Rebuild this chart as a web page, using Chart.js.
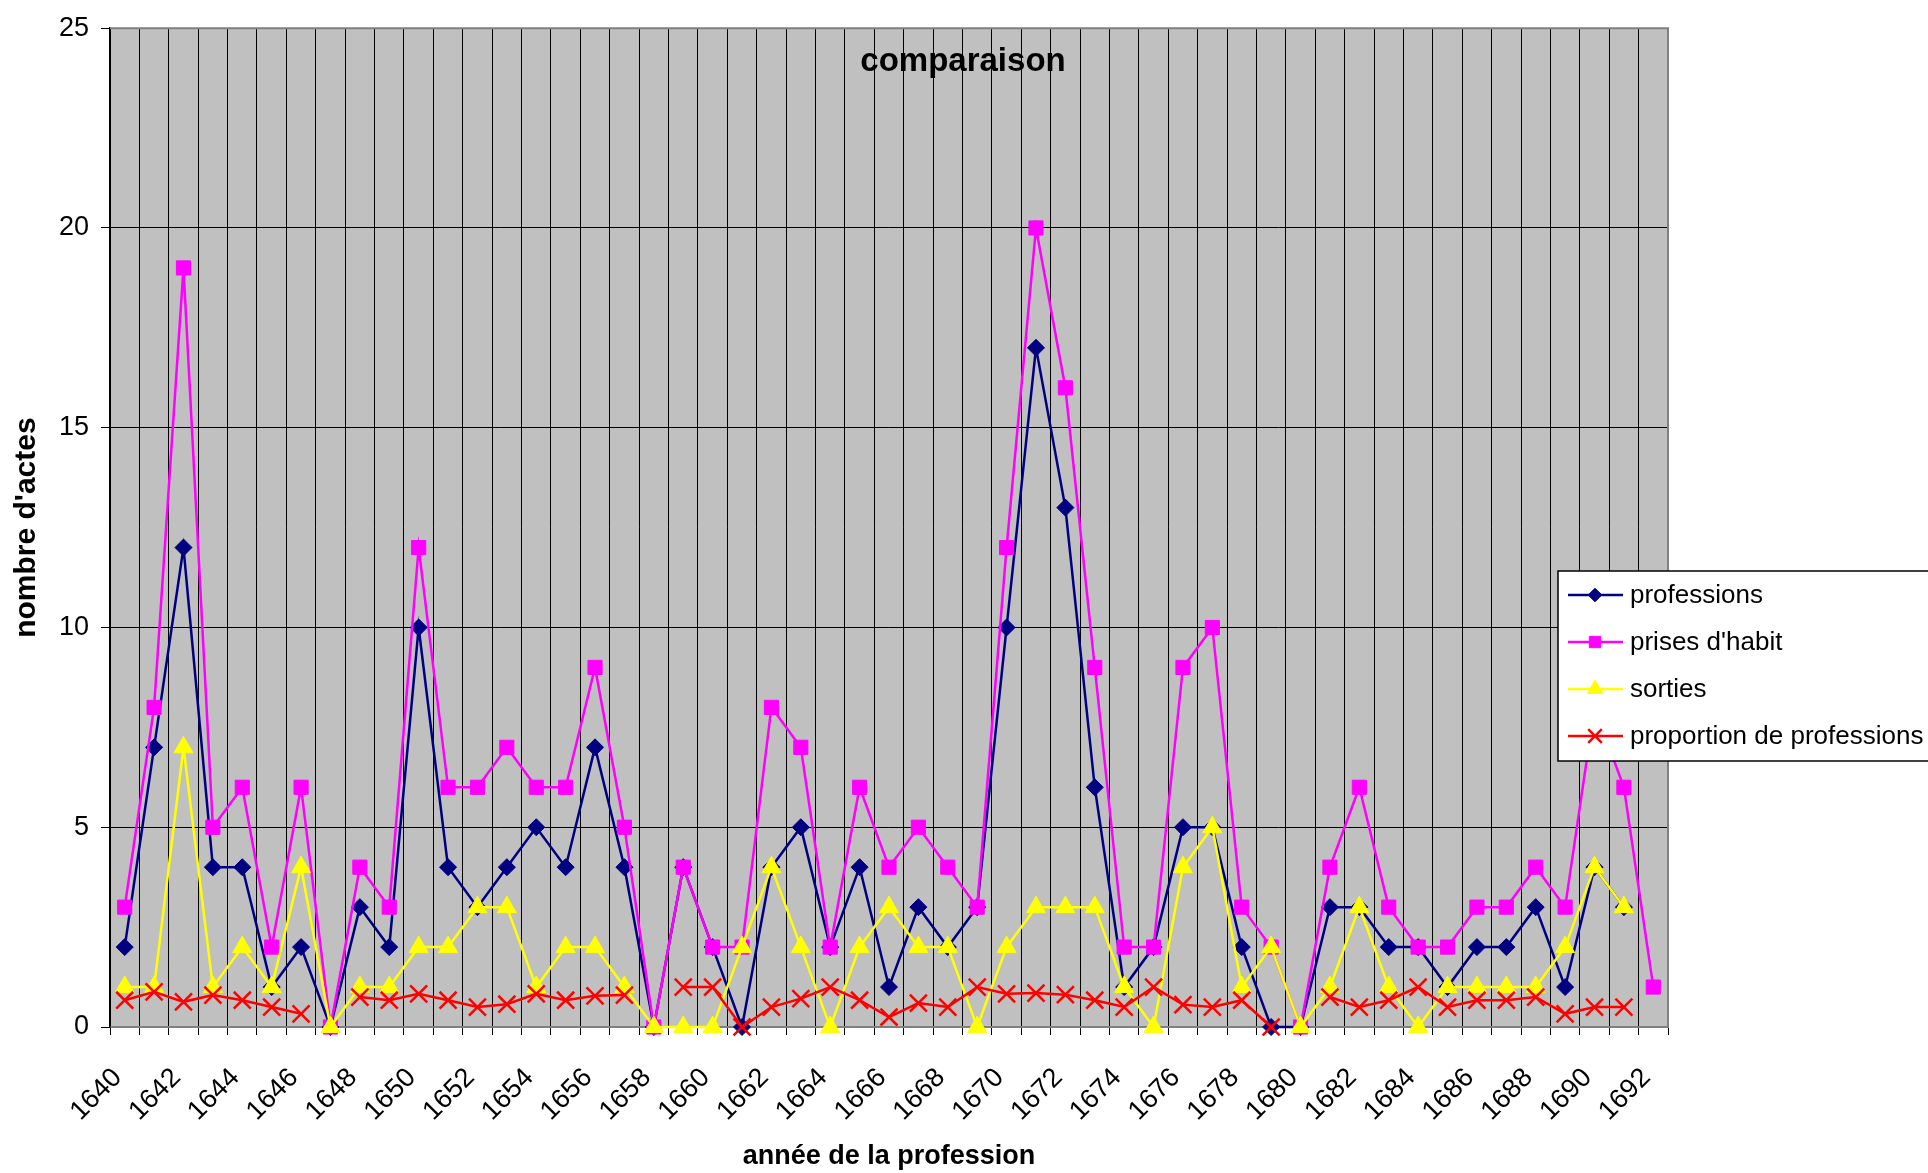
<!DOCTYPE html>
<html>
<head>
<meta charset="utf-8">
<title>comparaison</title>
<script src="https://cdn.jsdelivr.net/npm/chart.js@4.4.1/dist/chart.umd.min.js"></script>
<style>
  html, body { margin: 0; padding: 0; background: #fff; }
  #wrap { width: 1928px; height: 1173px; position: relative; }
</style>
</head>
<body>
<div id="wrap"><canvas id="chart"></canvas></div>
<script>
const years = ['1640', '1641', '1642', '1643', '1644', '1645', '1646', '1647', '1648', '1649',
  '1650', '1651', '1652', '1653', '1654', '1655', '1656', '1657', '1658', '1659',
  '1660', '1661', '1662', '1663', '1664', '1665', '1666', '1667', '1668', '1669',
  '1670', '1671', '1672', '1673', '1674', '1675', '1676', '1677', '1678', '1679',
  '1680', '1681', '1682', '1683', '1684', '1685', '1686', '1687', '1688', '1689',
  '1690', '1691', '1692'];

const professions = [2, 7, 12, 4, 4, 1, 2, 0, 3, 2,
  10, 4, 3, 4, 5, 4, 7, 4, 0, 4,
  2, 0, 4, 5, 2, 4, 1, 3, 2, 3,
  10, 17, 13, 6, 1, 2, 5, 5, 2, 0,
  0, 3, 3, 2, 2, 1, 2, 2, 3, 1,
  4, 3, null];

const prisesHabit = [3, 8, 19, 5, 6, 2, 6, 0, 4, 3,
  12, 6, 6, 7, 6, 6, 9, 5, 0, 4,
  2, 2, 8, 7, 2, 6, 4, 5, 4, 3,
  12, 20, 16, 9, 2, 2, 9, 10, 3, 2,
  0, 4, 6, 3, 2, 2, 3, 3, 4, 3,
  8, 6, 1];

const sorties = [1, 1, 7, 1, 2, 1, 4, 0, 1, 1,
  2, 2, 3, 3, 1, 2, 2, 1, 0, 0,
  0, 2, 4, 2, 0, 2, 3, 2, 2, 0,
  2, 3, 3, 3, 1, 0, 4, 5, 1, 2,
  0, 1, 3, 1, 0, 1, 1, 1, 1, 2,
  4, 3, null];

const proportion = [0.67, 0.88, 0.63, 0.8, 0.67, 0.5, 0.33, null, 0.75, 0.67,
  0.83, 0.67, 0.5, 0.57, 0.83, 0.67, 0.78, 0.8, null, 1,
  1, 0, 0.5, 0.71, 1, 0.67, 0.25, 0.6, 0.5, 1,
  0.83, 0.85, 0.81, 0.67, 0.5, 1, 0.56, 0.5, 0.67, 0,
  null, 0.75, 0.5, 0.67, 1, 0.5, 0.67, 0.67, 0.75, 0.33,
  0.5, 0.5, null];

const yTicks = [0, 5, 10, 15, 20, 25];

const FONT = '"Liberation Sans", Arial, sans-serif';

// grey plot area + frame, like the old spreadsheet chart
const plotBg = {
  id: 'plotBg',
  beforeDraw(chart) {
    const { ctx, chartArea: a } = chart;
    ctx.save();
    ctx.fillStyle = '#C0C0C0';
    ctx.fillRect(a.left, a.top, a.right - a.left, a.bottom - a.top);
    ctx.restore();
  },
  beforeDatasetsDraw(chart) {
    const { ctx, chartArea: a } = chart;
    ctx.save();
    ctx.strokeStyle = '#808080';
    ctx.lineWidth = 2;
    ctx.beginPath();
    ctx.moveTo(a.left, a.top);
    ctx.lineTo(a.right, a.top);
    ctx.lineTo(a.right, a.bottom);
    ctx.stroke();
    ctx.restore();
  }
};

// title sits inside the plot area
const innerTitle = {
  id: 'innerTitle',
  afterDraw(chart) {
    const { ctx, chartArea: a } = chart;
    ctx.save();
    ctx.font = 'bold 33px ' + FONT;
    ctx.fillStyle = '#000';
    ctx.textAlign = 'center';
    ctx.textBaseline = 'alphabetic';
    ctx.fillText('comparaison', 963, a.top + 43);
    ctx.restore();
  }
};

// legend box overlapping the right edge of the plot
const boxLegend = {
  id: 'boxLegend',
  afterDraw(chart) {
    const ctx = chart.ctx;
    const x0 = 1558, y0 = 571, w = 420, h = 190;
    ctx.save();
    ctx.fillStyle = '#fff';
    ctx.fillRect(x0, y0, w, h);
    ctx.strokeStyle = '#000';
    ctx.lineWidth = 1.5;
    ctx.strokeRect(x0, y0, w, h);
    chart.data.datasets.forEach((ds, k) => {
      const y = 595 + k * 47;
      ctx.strokeStyle = ds.borderColor;
      ctx.lineWidth = 2.5;
      ctx.beginPath();
      ctx.moveTo(1568, y);
      ctx.lineTo(1623, y);
      ctx.stroke();
      ctx.fillStyle = ds.backgroundColor;
      ctx.strokeStyle = ds.borderColor;
      ctx.lineWidth = ds.pointStyle === 'crossRot' ? 2.5 : 1;
      Chart.helpers.drawPoint(ctx, {
        pointStyle: ds.pointStyle,
        radius: ds.pointRadius * 0.8,
        rotation: 0,
        borderWidth: ctx.lineWidth
      }, 1595, y);
      ctx.fillStyle = '#000';
      ctx.font = '26px ' + FONT;
      ctx.textAlign = 'left';
      ctx.textBaseline = 'middle';
      ctx.fillText(ds.label, 1630, y + 1);
    });
    ctx.restore();
  }
};

new Chart(document.getElementById('chart'), {
  type: 'line',
  data: {
    labels: years,
    datasets: [
      {
        label: 'professions',
        data: professions,
        borderColor: '#000080',
        backgroundColor: '#000080',
        pointStyle: 'rectRot',
        pointRadius: 8.5,
        borderWidth: 2.5,
        pointBorderWidth: 1,
        order: 4
      },
      {
        label: "prises d'habit",
        data: prisesHabit,
        borderColor: '#FF00FF',
        backgroundColor: '#FF00FF',
        pointStyle: 'rect',
        pointRadius: 10,
        borderWidth: 2.5,
        pointBorderWidth: 1,
        order: 3
      },
      {
        label: 'sorties',
        data: sorties,
        borderColor: '#FFFF00',
        backgroundColor: '#FFFF00',
        pointStyle: 'triangle',
        pointRadius: 11,
        borderWidth: 2.5,
        pointBorderWidth: 1,
        order: 2
      },
      {
        label: 'proportion de professions',
        data: proportion,
        borderColor: '#FF0000',
        backgroundColor: '#FF0000',
        pointStyle: 'crossRot',
        pointRadius: 12,
        borderWidth: 2.5,
        pointBorderWidth: 2.5,
        order: 1
      }
    ]
  },
  options: {
    responsive: true,
    maintainAspectRatio: false,
    animation: false,
    clip: false,
    layout: { padding: { top: 25, right: 260, left: 0, bottom: 0 } },
    elements: { line: { tension: 0 } },
    plugins: {
      legend: { display: false },
      tooltip: { enabled: false },
      title: { display: false }
    },
    scales: {
      x: {
        offset: true,
        grid: { offset: true, color: '#000', lineWidth: 1, tickLength: 8, tickColor: '#000' },
        border: { color: '#808080', width: 2 },
        ticks: {
          autoSkip: false,
          minRotation: 45,
          maxRotation: 45,
          padding: 27,
          labelOffset: -7,
          color: '#000',
          font: { family: FONT, size: 27 },
          callback: function (val, i) {
            return i % 2 === 0 ? this.getLabelForValue(val) : '';
          }
        },
        title: {
          display: true,
          text: 'année de la profession',
          color: '#000',
          font: { family: FONT, size: 27, weight: 'bold' },
          padding: { top: 0, bottom: 0 }
        },
        afterFit(scale) { scale.height = 146; }
      },
      y: {
        min: 0,
        max: 25,
        grid: { color: '#000', lineWidth: 1, tickLength: 9 },
        border: { color: '#000', width: 1.5 },
        ticks: {
          padding: 12,
          color: '#000',
          font: { family: FONT, size: 27 }
        },
        afterBuildTicks(scale) {
          scale.ticks = yTicks.map(v => ({ value: v }));
        },
        title: {
          display: true,
          text: "nombre d'actes",
          color: '#000',
          font: { family: FONT, size: 30, weight: 'bold' },
          padding: { top: 9, bottom: 0 }
        },
        afterFit(scale) { scale.width = 110; }
      }
    }
  },
  plugins: [plotBg, innerTitle, boxLegend]
});
</script>
</body>
</html>
